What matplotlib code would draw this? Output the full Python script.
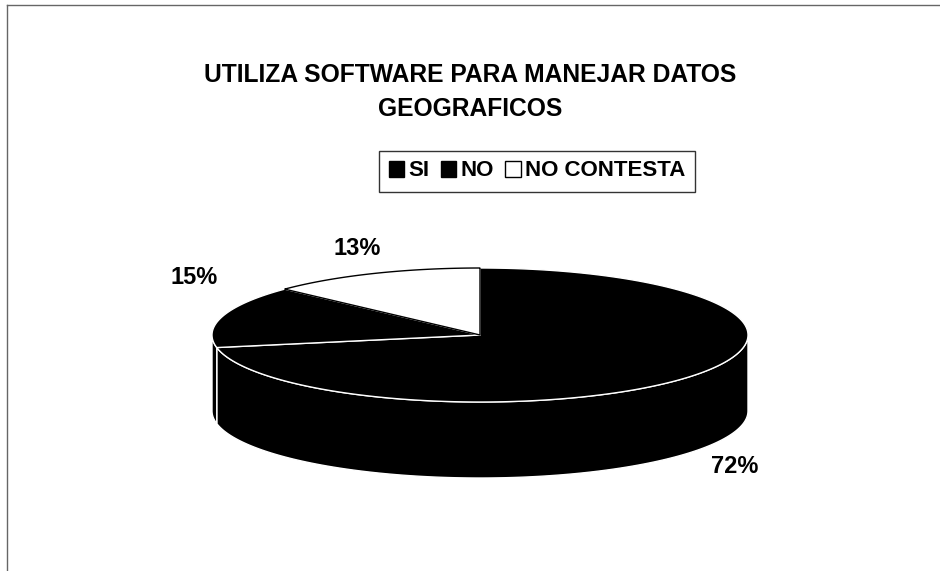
import matplotlib.pyplot as plt
import numpy as np
from matplotlib.patches import Patch

plt.rcParams['font.family'] = ['Liberation Sans', 'DejaVu Sans']
plt.rcParams['font.weight'] = 'bold'

# data
labels = ['SI', 'NO', 'NO CONTESTA']
values = [72, 15, 13]
pct_labels = ['72%', '15%', '13%']
colors = ['black', 'black', 'white']
title = 'UTILIZA SOFTWARE PARA MANEJAR DATOS\nGEOGRAFICOS'

# pie layout (pixel space)
CX, CY = 480, 335
RX, RY = 268, 67
DEPTH = 76


def ell(t, dy=0):
    t = np.radians(t)
    return CX + RX * np.cos(t), CY - RY * np.sin(t) + dy


fig = plt.figure(figsize=(9.4, 5.71), dpi=100)
ax = fig.add_axes([0, 0, 1, 1])
ax.set_xlim(0, 940)
ax.set_ylim(571, 0)
ax.axis('off')

# scan border
ax.plot([7, 940], [5, 5], color='#666666', lw=1)
ax.plot([7, 7], [5, 571], color='#666666', lw=1)

# slice angles, clockwise from 12 o'clock
frac = np.array(values) / sum(values)
ends = 90 - 360 * np.cumsum(frac)
starts = np.concatenate([[90], ends[:-1]])

# sides (front half only)
for s, e, c in zip(starts, ends, colors):
    lo, hi = e % 360, (e % 360) + (s - e)
    a0, a1 = max(lo, 180), min(hi, 360)
    if a1 <= a0:
        continue
    t = np.linspace(a0, a1, 200)
    x1, y1 = ell(t)
    x2, y2 = ell(t[::-1], DEPTH)
    ax.fill(np.concatenate([x1, x2]), np.concatenate([y1, y2]),
            facecolor=c, edgecolor='white', lw=1.0, zorder=2)

# top faces
for s, e, c in zip(starts, ends, colors):
    t = np.linspace(s, e, 300)
    x, y = ell(t)
    x = np.concatenate([[CX], x])
    y = np.concatenate([[CY], y])
    ec = 'black' if c == 'white' else 'white'
    ax.fill(x, y, facecolor=c, edgecolor=ec, lw=1.0, zorder=3 if c == 'black' else 4)

# percentage labels
mids = (starts + ends) / 2
offs = [(1.12, DEPTH + 8, 'left'),
        (1.02, -38, 'right'),
        (1.15, -16, 'center')]
for m, txt, (k, dy, ha) in zip(mids, pct_labels, offs):
    tt = np.radians(m)
    x = CX + k * RX * np.cos(tt)
    y = CY - k * RY * np.sin(tt) + dy
    ax.text(x, y, txt, ha=ha, va='center', fontsize=17, fontweight='bold')

ax.text(470, 92, title, ha='center', va='center', fontsize=17.7,
        fontweight='bold', linespacing=1.55)

handles = [Patch(facecolor=c, edgecolor='black', lw=1) for c in colors]
fig.legend(handles, labels, loc='center', bbox_to_anchor=(537 / 940, 1 - 171 / 571),
           ncol=3, frameon=True, fancybox=False, edgecolor='black',
           prop={'size': 16, 'weight': 'bold'}, handlelength=0.7, handleheight=0.7,
           handletextpad=0.2, columnspacing=0.5, borderpad=0.45, borderaxespad=0)

fig.savefig('out.png', dpi=100)
